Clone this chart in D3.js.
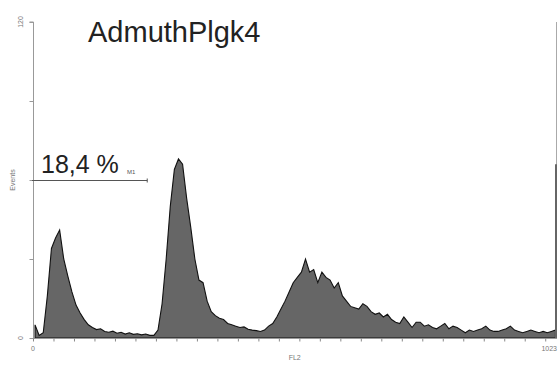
<!DOCTYPE html>
<html>
<head>
<meta charset="utf-8">
<script src="https://cdn.jsdelivr.net/npm/d3@7"></script>
<style>
  body { margin: 0; background: #fff; }
  svg { display: block; font-family: "Liberation Sans", Arial, sans-serif; }
</style>
</head>
<body>
<script>
// FL2 histogram, 8 channels per bin (channels 0..1023)
const binWidth = 8;
const counts = [
  5, 1, 2, 16, 34, 38, 41, 30, 23.5, 17.5,
  12.5, 9.5, 7, 5, 4, 3.2, 3.5, 2.5, 2.2, 2.6,
  1.8, 2.2, 1.5, 2, 1.4, 1.6, 1.2, 1.5, 1, 1,
  3, 13, 30, 50, 64, 68, 66, 53, 42, 30,
  22, 21, 14, 10, 8.5, 7.5, 7, 5.5, 5, 4.5,
  4, 4.2, 3.3, 3, 2.8, 2.5, 3, 4.5, 5.5, 8,
  11, 14, 17.5, 21, 23, 25, 30, 25, 26, 21,
  25, 23, 22, 19, 21, 16, 14, 12, 11.5, 11,
  13, 12, 10, 9, 9.5, 8, 9, 7, 6, 5.5,
  8, 6, 4, 6, 6, 4.5, 5, 4, 3.5, 4.5,
  5.5, 3.5, 4.5, 4, 3, 2, 3, 2.5, 3, 3.5,
  4.5, 3, 2.5, 2.5, 3, 3.5, 4.5, 3, 2.5, 2,
  2.5, 3, 2.5, 2, 2.5, 2, 2.5, 3
];
const lastChannel = 1023;
const lastChannelCount = 66;
const yTicks = [0, 30, 60, 90, 120];
const yTickLabels = ["0", "120"];
const xTicks = d3.range(0, 1001, 40);
const markerRange = [0, 223];
const markerText = "18,4 %";
const markerName = "M1";
const title = "AdmuthPlgk4";

const W = 558, H = 365;
const margin = {top: 22, right: 1, bottom: 27, left: 33};

const svg = d3.select("body").append("svg")
  .attr("width", W)
  .attr("height", H);

const x = d3.scaleLinear().domain([0, 1023]).range([margin.left, W - margin.right]);
const y = d3.scaleLinear().domain([0, 120]).range([H - margin.bottom, margin.top]);

const bins = counts.map((c, i) => ({ch: i * binWidth + binWidth / 2, count: c}));

// histogram
const area = d3.area()
  .x(d => x(d.ch))
  .y0(y(0))
  .y1(d => y(d.count));

svg.append("path")
  .datum(bins)
  .attr("d", area)
  .attr("fill", "#666")
  .attr("stroke", "#111")
  .attr("stroke-width", 1.1)
  .attr("stroke-linejoin", "miter");

// right edge line and last channel bar
svg.append("line")
  .attr("x1", x(lastChannel) - 0.5).attr("x2", x(lastChannel) - 0.5)
  .attr("y1", y(120)).attr("y2", y(0))
  .attr("stroke", "#aaa");
svg.append("line")
  .attr("x1", x(lastChannel) - 1).attr("x2", x(lastChannel) - 1)
  .attr("y1", y(lastChannelCount)).attr("y2", y(0))
  .attr("stroke", "#666").attr("stroke-width", 2);

// y axis
const yAxis = svg.append("g")
  .attr("transform", `translate(${margin.left + 0.5},0)`)
  .call(d3.axisLeft(y).tickValues(yTicks).tickSize(4).tickFormat(""));
yAxis.select(".domain").attr("stroke", "#999").attr("d", `M-4,${y(120)}H0V${y(0)}`);
yAxis.selectAll(".tick line").attr("stroke", "#999");

yTickLabels.forEach(t => {
  svg.append("text")
    .attr("transform", `translate(${margin.left - 10},${y(+t)}) rotate(-90)`)
    .attr("text-anchor", "middle")
    .attr("font-size", 7)
    .attr("fill", "#777")
    .text(t);
});

svg.append("text")
  .attr("transform", `translate(15,${y(60)}) rotate(-90)`)
  .attr("text-anchor", "middle")
  .attr("font-size", 7)
  .attr("fill", "#777")
  .text("Events");

// x axis
const xAxis = svg.append("g")
  .attr("transform", `translate(0,${y(0) + 0.5})`)
  .call(d3.axisBottom(x).tickValues(xTicks).tickSize(3).tickFormat(""));
xAxis.select(".domain").attr("stroke", "#999").attr("d", `M${x(0)},0H${x(1023)}`);
xAxis.selectAll(".tick line").attr("stroke", "#888");

svg.append("text")
  .attr("x", x(0)).attr("y", y(0) + 13)
  .attr("text-anchor", "middle")
  .attr("font-size", 7).attr("fill", "#777")
  .text("0");
svg.append("text")
  .attr("x", x(1023)).attr("y", y(0) + 13)
  .attr("text-anchor", "end")
  .attr("font-size", 7).attr("fill", "#777")
  .text("1023");
svg.append("text")
  .attr("x", x(511)).attr("y", y(0) + 22)
  .attr("text-anchor", "middle")
  .attr("font-size", 7).attr("fill", "#777")
  .text("FL2");

// marker M1
const my = y(60) + 0.5;
svg.append("line")
  .attr("x1", x(markerRange[0]) - 1).attr("x2", x(markerRange[1]))
  .attr("y1", my).attr("y2", my)
  .attr("stroke", "#555");
svg.append("line")
  .attr("x1", x(markerRange[1])).attr("x2", x(markerRange[1]))
  .attr("y1", my - 2).attr("y2", my + 2)
  .attr("stroke", "#555");
svg.append("text")
  .attr("x", 41).attr("y", 173)
  .attr("font-size", 25).attr("fill", "#222")
  .text(markerText);
svg.append("text")
  .attr("x", 127).attr("y", 174)
  .attr("font-size", 6).attr("fill", "#555")
  .text(markerName);

// title
svg.append("text")
  .attr("x", 88).attr("y", 42)
  .attr("font-size", 29).attr("fill", "#222")
  .text(title);
</script>
</body>
</html>
